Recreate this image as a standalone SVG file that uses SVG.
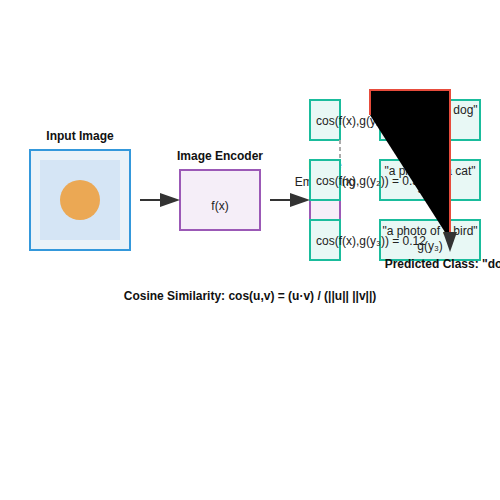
<svg xmlns="http://www.w3.org/2000/svg" width="500" height="500" viewBox="0 0 500 500">
  <defs>
    <marker id="arrow" markerWidth="10" markerHeight="7" refX="4" refY="3.5" orient="auto">
      <polygon points="0 0, 10 3.5, 0 7" fill="#333"/>
    </marker>
  </defs>
  <style>
    text { font-family: "Liberation Sans", Arial, sans-serif; font-size: 12px; fill: #222; }
    .title { font-weight: bold; fill: #111; }
    .mid { text-anchor: middle; }
    .teal { fill: #e8f8f5; stroke: #1abc9c; stroke-width: 2; }
    .purple { fill: #f5eef8; stroke: #9b59b6; stroke-width: 2; }
    .arrow { stroke: #333; stroke-width: 2; fill: none; marker-end: url(#arrow); }
  </style>
  <rect width="500" height="500" fill="#fff"/>

  <g id="input-image">
    <rect x="30" y="150" width="100" height="100" fill="#eaf2f8" stroke="#3498db" stroke-width="2"/>
    <rect x="40" y="160" width="80" height="80" fill="#d5e5f5"/>
    <circle cx="80" cy="200" r="20" fill="#eba854"/>
    <text class="title mid" x="80" y="140">Input Image</text>
  </g>

  <g id="image-encoder">
    <rect class="purple" x="180" y="170" width="80" height="60"/>
    <text class="title mid" x="220" y="160">Image Encoder</text>
    <text class="mid" x="220" y="210">f(x)</text>
  </g>

  <g id="image-embedding">
    <rect class="purple" x="310" y="180" width="30" height="60"/>
    <text class="mid" x="325" y="169">Image</text>
    <text class="mid" x="325" y="186">Embedding</text>
  </g>

  <g id="text-1">
    <rect class="teal" x="380" y="100" width="100" height="40"/>
    <text class="mid" x="430" y="114">"a photo of a dog"</text>
    <text class="mid" x="430" y="129">g(y₁)</text>
  </g>
  <g id="text-2">
    <rect class="teal" x="380" y="160" width="100" height="40"/>
    <text class="mid" x="430" y="175">"a photo of a cat"</text>
    <text class="mid" x="430" y="190">g(y₂)</text>
  </g>
  <g id="text-3">
    <rect class="teal" x="380" y="220" width="100" height="40"/>
    <text class="mid" x="430" y="235">"a photo of a bird"</text>
    <text class="mid" x="430" y="250">g(y₃)</text>
  </g>

  <g id="similarity-1">
    <rect class="teal" x="310" y="100" width="30" height="40"/>
    <text x="316" y="125">cos(f(x),g(y₁)) = 0.85</text>
  </g>
  <g id="similarity-2">
    <rect class="teal" x="310" y="160" width="30" height="40"/>
    <text x="316" y="185">cos(f(x),g(y₂)) = 0.31</text>
  </g>
  <g id="similarity-3">
    <rect class="teal" x="310" y="220" width="30" height="40"/>
    <text x="316" y="245">cos(f(x),g(y₃)) = 0.12</text>
  </g>

  <g id="prediction">
    <text class="title mid" x="450" y="268">Predicted Class: "dog"</text>
  </g>

  <g id="formula">
    <text class="title mid" x="250" y="300">Cosine Similarity: cos(u,v) = (u·v) / (||u|| ||v||)</text>
  </g>

  <g id="connectors">
    <line class="arrow" x1="140" y1="200" x2="168" y2="200"/>
    <line class="arrow" x1="270" y1="200" x2="298" y2="200"/>
    <line x1="340" y1="140" x2="340" y2="160" stroke="#aaa" stroke-width="2" stroke-dasharray="4 3"/>
    <path d="M370,115 L370,90 L450,90 L450,240" fill="#000" stroke="#e74c3c" stroke-width="2" marker-end="url(#arrow)"/>
  </g>
</svg>
